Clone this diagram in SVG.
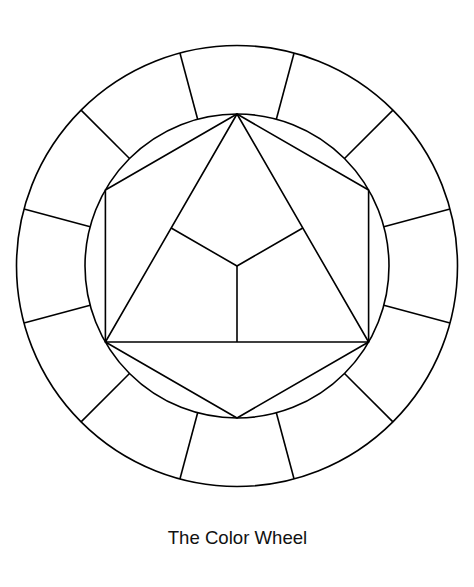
<svg xmlns="http://www.w3.org/2000/svg" width="474" height="587" viewBox="0 0 474 587">
  <style>
    .s { fill: none; stroke: #000; stroke-width: 1.6; stroke-linejoin: round; }
    .t { font-family: "Liberation Sans", Arial, sans-serif; font-size: 18.6px; fill: #111; }
  </style>
  <rect width="474" height="587" fill="#fff"/>
  <g id="ring">
    <circle class="s" cx="237" cy="266" r="220.5"/>
    <circle class="s" cx="237" cy="266" r="152"/>
  </g>
  <g id="dividers" class="s">
    <line x1="389" y1="266" x2="457.5" y2="266" transform="rotate(15 237 266)"/>
    <line x1="389" y1="266" x2="457.5" y2="266" transform="rotate(45 237 266)"/>
    <line x1="389" y1="266" x2="457.5" y2="266" transform="rotate(75 237 266)"/>
    <line x1="389" y1="266" x2="457.5" y2="266" transform="rotate(105 237 266)"/>
    <line x1="389" y1="266" x2="457.5" y2="266" transform="rotate(135 237 266)"/>
    <line x1="389" y1="266" x2="457.5" y2="266" transform="rotate(165 237 266)"/>
    <line x1="389" y1="266" x2="457.5" y2="266" transform="rotate(195 237 266)"/>
    <line x1="389" y1="266" x2="457.5" y2="266" transform="rotate(225 237 266)"/>
    <line x1="389" y1="266" x2="457.5" y2="266" transform="rotate(255 237 266)"/>
    <line x1="389" y1="266" x2="457.5" y2="266" transform="rotate(285 237 266)"/>
    <line x1="389" y1="266" x2="457.5" y2="266" transform="rotate(315 237 266)"/>
    <line x1="389" y1="266" x2="457.5" y2="266" transform="rotate(345 237 266)"/>
  </g>
  <g id="hexagon">
    <polygon class="s" points="237,114 368.6,190 368.6,342 237,418 105.4,342 105.4,190"/>
  </g>
  <g id="triangle">
    <polygon class="s" points="237,114 368.6,342 105.4,342"/>
    <polyline class="s" points="171.2,228 237,266 302.8,228"/>
    <line class="s" x1="237" y1="266" x2="237" y2="342"/>
  </g>
  <text class="t" x="237.5" y="544" text-anchor="middle">The Color Wheel</text>
</svg>
